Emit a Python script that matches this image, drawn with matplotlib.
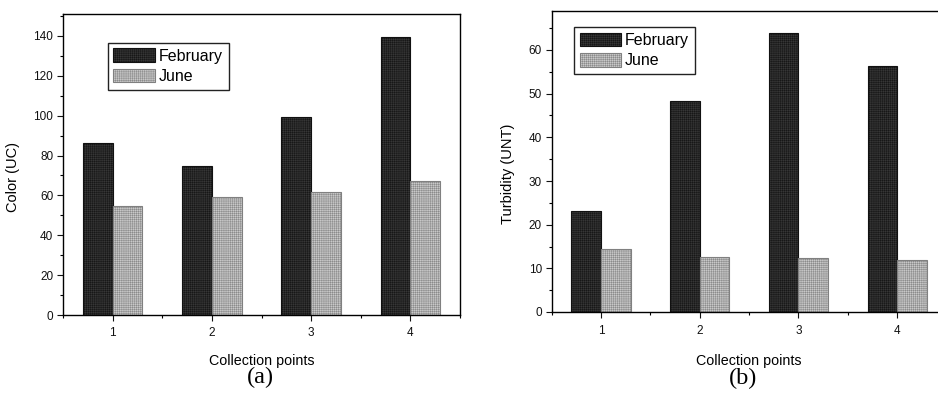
import matplotlib

matplotlib.use('Agg')
import matplotlib.pyplot as plt
from matplotlib.ticker import MultipleLocator

# values
points = [1, 2, 3, 4]
color_feb = [86.4, 74.5, 99.1, 139.6]
color_jun = [54.8, 59.0, 61.8, 67.3]
turb_feb = [23.1, 48.4, 63.8, 56.3]
turb_jun = [14.4, 12.5, 12.3, 11.8]
series_names = ["February", "June"]

plt.rcParams['font.family'] = ['Liberation Sans', 'DejaVu Sans']
plt.rcParams['hatch.linewidth'] = 0.3

W, H = 938, 394
fig = plt.figure(figsize=(W / 100, H / 100), dpi=100)


def px_axes(x0, x1, ytop, ybot):
    return fig.add_axes([x0 / W, (H - ybot) / H, (x1 - x0) / W, (ybot - ytop) / H])


def draw(ax, feb, jun, ymax, major, minor, ylabel, leg_xy, ylab_x, xlab_y):
    width = 0.3
    xs = list(points)
    ax.bar([x - width / 2 for x in xs], feb, width, facecolor='#363636',
           edgecolor='#111111', hatch='++++++++', linewidth=0.8, label=series_names[0])
    ax.bar([x + width / 2 for x in xs], jun, width, facecolor='#c8c8c8',
           edgecolor='#808080', hatch='++++++++', linewidth=0.8, label=series_names[1])
    ax.set_xlim(0.5, 4.5)
    ax.set_ylim(0, ymax)
    ax.set_xticks(xs)
    ax.xaxis.set_minor_locator(MultipleLocator(0.5))
    ax.yaxis.set_major_locator(MultipleLocator(major))
    ax.yaxis.set_minor_locator(MultipleLocator(minor))
    ax.tick_params(which='major', direction='out', length=4, width=0.8,
                   labelsize=8.5, colors='#111111', pad=3)
    ax.tick_params(axis='x', which='major', pad=5)
    ax.tick_params(which='minor', direction='out', length=2.5, width=0.8)
    for s in ax.spines.values():
        s.set_linewidth(1.0)
    ax.set_ylabel(ylabel, fontsize=10.5)
    ax.yaxis.set_label_coords(ylab_x, 0.46)
    ax.set_xlabel("Collection points", fontsize=10.3)
    ax.xaxis.set_label_coords(0.5, xlab_y)
    ax.legend(loc='upper left', bbox_to_anchor=leg_xy, fontsize=11.5,
              fancybox=False, framealpha=1, edgecolor='#222222',
              handlelength=2.6, handleheight=0.95, handletextpad=0.25,
              labelspacing=0.3, borderpad=0.35, borderaxespad=0)


ax1 = px_axes(63, 460, 14, 315)
draw(ax1, color_feb, color_jun, 151, 20, 10, "Color (UC)",
     (0.113, 0.904), -0.108, -0.13)

ax2 = px_axes(551.7, 946.5, 10.7, 312)
draw(ax2, turb_feb, turb_jun, 69, 10, 5, "Turbidity (UNT)",
     (0.0565, 0.946), -0.093, -0.139)

fig.text(260 / W, 1 - 377 / H, "(a)", family='Liberation Serif',
         fontsize=17.5, ha='center', va='center')
fig.text(743 / W, 1 - 378 / H, "(b)", family='Liberation Serif',
         fontsize=17.5, ha='center', va='center')

fig.savefig("out.png", dpi=100)
